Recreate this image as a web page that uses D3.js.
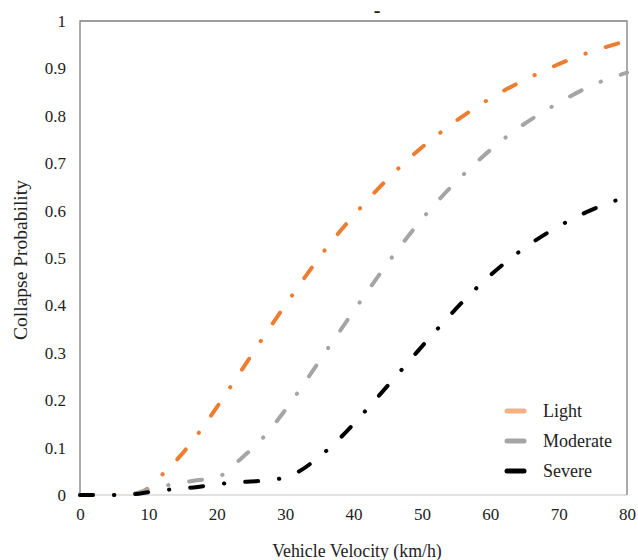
<!DOCTYPE html>
<html>
<head>
<meta charset="utf-8">
<script src="https://cdn.jsdelivr.net/npm/d3@7"></script>
<style>
  body { margin: 0; background: #fff; }
  svg { display: block; }
  text { font-family: "Liberation Serif", "Times New Roman", serif; fill: #222; }
</style>
</head>
<body>
<svg id="chart" width="638" height="560"></svg>
<script>
// ---- data ----
const seriesNames = ["Light", "Moderate", "Severe"];
const lightX    = [0, 5, 8, 10, 12.1, 14.7, 17.3, 22.0, 26.6, 31.2, 36.1, 41.4, 47.0, 53.2, 59.8, 66.8, 74.1, 80];
const lightY    = [0, 0, 0.002, 0.015, 0.044, 0.083, 0.130, 0.228, 0.328, 0.425, 0.522, 0.612, 0.695, 0.770, 0.835, 0.888, 0.932, 0.958];
const moderateX = [0, 5, 8, 10, 12.6, 16.6, 20.3, 23.4, 26.4, 29.0, 31.4, 36.1, 40.8, 45.6, 50.7, 56.3, 62.4, 69.0, 76.0, 80];
const moderateY = [0, 0, 0.003, 0.012, 0.020, 0.030, 0.039, 0.075, 0.115, 0.160, 0.207, 0.306, 0.404, 0.501, 0.594, 0.679, 0.756, 0.819, 0.871, 0.891];
const severeX   = [0, 5, 8, 10, 12.8, 16.6, 20.3, 24.4, 28.2, 31.8, 35.1, 38.1, 40.9, 46.3, 51.7, 57.3, 63.3, 69.9, 77.1, 80];
const severeY   = [0, 0, 0.002, 0.006, 0.011, 0.016, 0.023, 0.028, 0.032, 0.048, 0.082, 0.121, 0.164, 0.252, 0.341, 0.427, 0.503, 0.566, 0.615, 0.629];
const xTicks = [0, 10, 20, 30, 40, 50, 60, 70, 80];
const yTicks = [0, 0.1, 0.2, 0.3, 0.4, 0.5, 0.6, 0.7, 0.8, 0.9, 1];
const xTitle = "Vehicle Velocity (km/h)";
const yTitle = "Collapse Probability";
const chartTitle = "-";

// ---- layout / styles ----
const colors = ["#ED7D31", "#A5A5A5", "#000000"];
const legendColors = ["#F4B183", "#A5A5A5", "#000000"];
const margin = { left: 80, right: 11, top: 21, bottom: 65 };
const W = 638, H = 560;

const svg = d3.select("#chart");
const x = d3.scaleLinear().domain([0, 80]).range([margin.left, W - margin.right]);
const y = d3.scaleLinear().domain([0, 1]).range([H - margin.bottom, margin.top]);

// frame
svg.append("line").attr("x1", x(0)).attr("x2", x(80)).attr("y1", y(0)).attr("y2", y(0))
  .attr("stroke", "#d9d9d9").attr("stroke-width", 1.5);
svg.append("path")
  .attr("d", `M${x(0)},${y(0)}V${y(1)}H${x(80)}V${y(0)}`)
  .attr("fill", "none").attr("stroke", "#7f7f7f").attr("stroke-width", 1.3);

// axes (labels only)
const xAxis = d3.axisBottom(x).tickValues(xTicks).tickSize(0).tickPadding(13).tickFormat(d3.format("d"));
const gx = svg.append("g").attr("transform", `translate(0,${y(0)})`).call(xAxis);
gx.select(".domain").remove();
gx.selectAll("text").attr("font-size", 17).attr("font-family", "Liberation Serif").attr("fill", "#222");

const yAxis = d3.axisLeft(y).tickValues(yTicks).tickSize(0).tickPadding(14).tickFormat(d => d === 0 || d === 1 ? String(d) : d3.format(".1f")(d));
const gy = svg.append("g").attr("transform", `translate(${x(0)},0)`).call(yAxis);
gy.select(".domain").remove();
gy.selectAll("text").attr("font-size", 17).attr("font-family", "Liberation Serif").attr("fill", "#222");

// titles
svg.append("text").attr("x", 357).attr("y", 557).attr("text-anchor", "middle")
  .attr("font-size", 17.8).text(xTitle);
svg.append("text").attr("transform", `translate(27,${260}) rotate(-90)`).attr("text-anchor", "middle")
  .attr("font-size", 19.5).text(yTitle);
svg.append("text").attr("x", 377).attr("y", 17).attr("text-anchor", "middle")
  .attr("font-size", 20).attr("font-weight", "bold").attr("fill", "#000").text(chartTitle);

// series
const series = [
  { name: seriesNames[0], xs: lightX, ys: lightY },
  { name: seriesNames[1], xs: moderateX, ys: moderateY },
  { name: seriesNames[2], xs: severeX, ys: severeY }
];
const line = d3.line().x(d => x(d[0])).y(d => y(d[1])).curve(d3.curveMonotoneX);
series.forEach((s, i) => {
  const pts = s.xs.map((v, k) => [v, s.ys[k]]);
  svg.append("path").datum(pts)
    .attr("d", line)
    .attr("fill", "none")
    .attr("stroke", colors[i])
    .attr("stroke-width", 4)
    .attr("stroke-linecap", "round")
    .attr("stroke-dasharray", "13,21,0.3,21");
});

// legend
const lg = svg.append("g");
seriesNames.forEach((n, i) => {
  const yy = 411 + i * 30;
  lg.append("line").attr("x1", 507).attr("x2", 524).attr("y1", yy).attr("y2", yy)
    .attr("stroke", legendColors[i]).attr("stroke-width", 5).attr("stroke-linecap", "round");
  lg.append("text").attr("x", 543).attr("y", yy + 6).attr("font-size", 18).text(n);
});
</script>
</body>
</html>
